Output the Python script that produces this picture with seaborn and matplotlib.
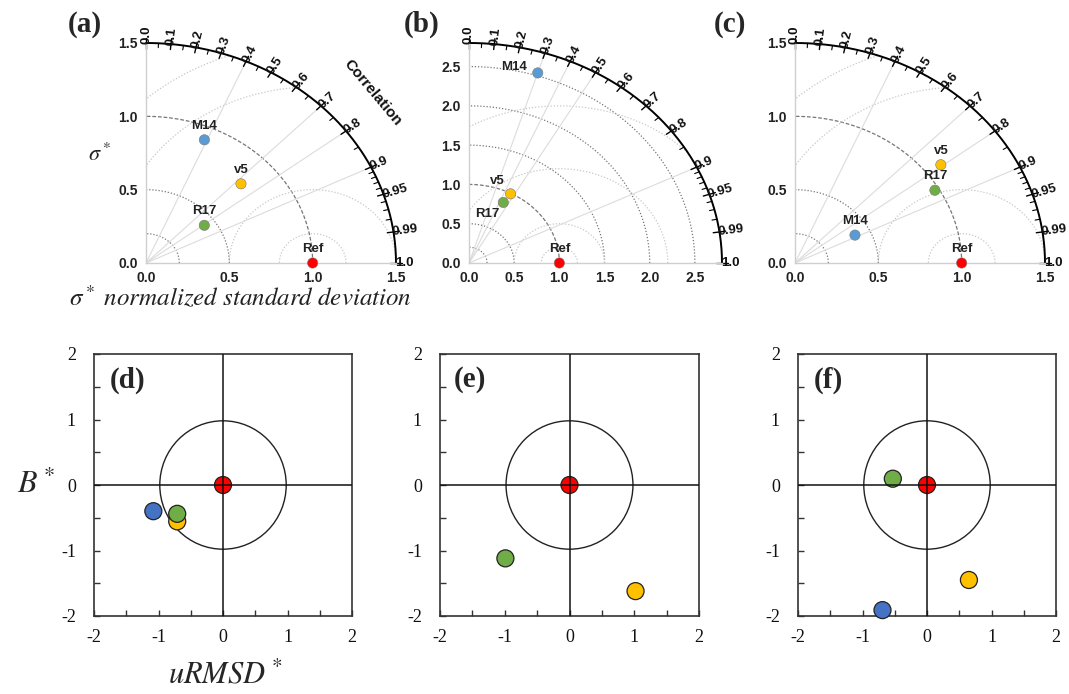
import numpy as np
import pandas as pd
import matplotlib
matplotlib.use('Agg')
import matplotlib.pyplot as plt
import seaborn as sns

# ---- data ----
models = ['M14', 'v5', 'R17']
# Taylor diagrams: normalized std and correlation (M14, v5, R17)
std_a = [0.91, 0.785, 0.434]
corr_a = [0.385, 0.726, 0.806]
std_b = [2.536, 0.993, 0.859]
corr_b = [0.30, 0.463, 0.442]
std_c = [0.407, 1.102, 0.975]
corr_c = [0.884, 0.794, 0.861]

# target diagrams: uRMSD* and B* (M14 is off the chart in (e))
urmsd_d = [-1.08, -0.71, -0.71]
bias_d = [-0.40, -0.555, -0.44]
models_e = ['v5', 'R17']
urmsd_e = [1.02, -0.99]
bias_e = [-1.62, -1.12]
urmsd_f = [-0.69, 0.65, -0.53]
bias_f = [-1.91, -1.45, 0.096]

corr_major = [0.0, 0.1, 0.2, 0.3, 0.4, 0.5, 0.6, 0.7, 0.8, 0.9, 0.95, 0.99, 1.0]
corr_labels = ['0.0', '0.1', '0.2', '0.3', '0.4', '0.5', '0.6', '0.7', '0.8', '0.9', '0.95', '0.99', '1.0']
corr_minor = [0.05, 0.15, 0.25, 0.35, 0.45, 0.55, 0.65, 0.75, 0.85,
              0.91, 0.92, 0.93, 0.94, 0.96, 0.97, 0.98]

top_colors = {'M14': '#5b9bd5', 'v5': '#ffc000', 'R17': '#70ad47', 'Ref': '#ff0000'}
bot_colors = {'M14': '#4472c4', 'v5': '#ffc000', 'R17': '#70ad47', 'Ref': '#ff0000'}

sns.set_theme(style='white')
plt.rcParams['font.family'] = ['Liberation Sans', 'DejaVu Sans']
plt.rcParams['mathtext.fontset'] = 'stix'
plt.rcParams['axes.unicode_minus'] = False

fig = plt.figure(figsize=(10.69, 6.94), dpi=100)
W, H = 1069, 694


def px_axes(left, right, top, bottom):
    return fig.add_axes([left / W, 1 - bottom / H, (right - left) / W, (bottom - top) / H])


def taylor(ax, R, std, corr, ticks, std_arcs, rms_arcs, corr_lines, offsets, title=False):
    ax.set_xlim(0, R)
    ax.set_ylim(0, R)
    for s in ['top', 'right']:
        ax.spines[s].set_visible(False)
    for s in ['left', 'bottom']:
        ax.spines[s].set_color('#cfcfcf')
        ax.spines[s].set_linewidth(1)
    ax.set_xticks(ticks)
    ax.set_yticks(ticks)
    ax.set_xticklabels([f'{t:.1f}' for t in ticks])
    ax.set_yticklabels([f'{t:.1f}' for t in ticks])
    ax.tick_params(length=0, labelsize=10, pad=6)
    for lab in ax.get_xticklabels() + ax.get_yticklabels():
        lab.set_fontweight('bold')
        lab.set_color('#222222')

    t = np.linspace(0, np.pi / 2, 300)
    for r in std_arcs:
        ls = (0, (3, 1.5)) if r == 1.0 else (0, (1, 1.5))
        ax.plot(r * np.cos(t), r * np.sin(t), ls=ls, color='#777777', lw=0.9, zorder=1)
    t2 = np.linspace(0, np.pi, 600)
    for r in rms_arcs:
        x = 1 + r * np.cos(t2)
        y = r * np.sin(t2)
        bad = (x < 0) | (x ** 2 + y ** 2 > R ** 2)
        x[bad] = np.nan
        ax.plot(x, y, ls=(0, (1, 1.5)), color='#c8c8c8', lw=0.9, zorder=1)
    for c in corr_lines:
        th = np.arccos(c)
        ax.plot([0, R * np.cos(th)], [0, R * np.sin(th)], color='#dcdcdc', lw=0.8, zorder=1)

    ax.plot(R * np.cos(t), R * np.sin(t), color='black', lw=1.4, clip_on=False, zorder=2)
    for c, lab in zip(corr_major, corr_labels):
        th = np.arccos(c)
        ax.plot([0.975 * R * np.cos(th), 1.025 * R * np.cos(th)],
                [0.975 * R * np.sin(th), 1.025 * R * np.sin(th)],
                color='black', lw=1, clip_on=False)
        ax.text(0.995 * R * np.cos(th), 0.995 * R * np.sin(th), lab,
                rotation=np.degrees(th), transform_rotates_text=True,
                rotation_mode='anchor', ha='left', va='center',
                fontsize=9.5, fontweight='bold', color='#111111')
    for c in corr_minor:
        th = np.arccos(c)
        ax.plot([0.98 * R * np.cos(th), R * np.cos(th)],
                [0.98 * R * np.sin(th), R * np.sin(th)],
                color='black', lw=0.8, clip_on=False)
    if title:
        ax.text(1.36, 1.16, 'Correlation', rotation=-50, ha='center', va='center',
                fontsize=11, fontweight='bold', color='#111111')

    names = list(models) + ['Ref']
    th = np.arccos(corr)
    df = pd.DataFrame({'name': names,
                       'x': list(np.array(std) * np.cos(th)) + [1.0],
                       'y': list(np.array(std) * np.sin(th)) + [0.0]})
    sns.scatterplot(data=df, x='x', y='y', hue='name', palette=top_colors, legend=False,
                    s=55, edgecolor='#777777', linewidth=0.4, ax=ax, zorder=5, clip_on=False)
    for _, row in df.iterrows():
        ax.annotate(row['name'], (row['x'], row['y']), xytext=offsets[row['name']],
                    textcoords='offset points', ha='center', va='center',
                    fontsize=9.5, fontweight='bold', color='#222222')
    ax.set_xlabel('')
    ax.set_ylabel('')


def target(ax, names, ux, by):
    ax.set_xlim(-2, 2)
    ax.set_ylim(-2, 2)
    for s in ax.spines.values():
        s.set_color('#333333')
        s.set_linewidth(1.2)
    ax.set_xticks([-2, -1, 0, 1, 2])
    ax.set_yticks([-2, -1, 0, 1, 2])
    ax.set_xticks([-1.5, -0.5, 0.5, 1.5], minor=True)
    ax.set_yticks([-1.5, -0.5, 0.5, 1.5], minor=True)
    ax.tick_params(which='both', direction='in', length=4, width=1, color='#333333',
                   bottom=True, left=True, top=False, right=False)
    ax.tick_params(axis='x', which='major', pad=9, labelsize=13)
    ax.tick_params(axis='y', which='major', pad=13, labelsize=13)
    for lab in ax.get_xticklabels() + ax.get_yticklabels():
        lab.set_fontfamily('Liberation Serif')
        lab.set_color('#111111')
    ax.axhline(0, color='#111111', lw=1.1, zorder=4)
    ax.axvline(0, color='#111111', lw=1.1, zorder=4)
    ax.add_patch(plt.Circle((0, 0), 0.98, fill=False, ec='#222222', lw=1.0, zorder=2))
    df = pd.DataFrame({'name': list(names) + ['Ref'],
                       'u': list(ux) + [0.0],
                       'b': list(by) + [0.0]})
    sns.scatterplot(data=df, x='u', y='b', hue='name', palette=bot_colors, legend=False,
                    s=150, edgecolor='#222222', linewidth=0.9, ax=ax, zorder=3, clip_on=False)
    ax.set_xlabel('')
    ax.set_ylabel('')


off_top = {'M14': (0, 10), 'v5': (0, 10), 'R17': (0, 10), 'Ref': (0, 10)}
off_b = {'M14': (-17, 4.5), 'v5': (-9.5, 9), 'R17': (-11.5, -8.5), 'Ref': (0, 10)}

ax_a = px_axes(146, 396, 43, 263)
taylor(ax_a, 1.5, std_a, corr_a, [0, 0.5, 1.0, 1.5], [0.2, 0.5, 1.0],
       [0.2, 0.5, 1.2, 1.5], [0.4, 0.7, 0.8, 0.9], off_top, title=True)
ax_b = px_axes(469, 722, 43, 263)
taylor(ax_b, 2.8, std_b, corr_b, [0, 0.5, 1.0, 1.5, 2.0, 2.5],
       [0.2, 0.5, 1.0, 1.5, 2.0, 2.5], [0.2, 0.5, 1.2, 2.0],
       [0.3, 0.4, 0.5, 0.9], off_b)
ax_c = px_axes(795, 1045, 43, 263)
taylor(ax_c, 1.5, std_c, corr_c, [0, 0.5, 1.0, 1.5], [0.2, 0.5, 1.0],
       [0.2, 0.5, 1.2, 1.5], [0.4, 0.7, 0.8, 0.9], off_top)

ax_d = px_axes(94, 352, 354, 616)
target(ax_d, models, urmsd_d, bias_d)
ax_e = px_axes(440, 699, 354, 616)
target(ax_e, models_e, urmsd_e, bias_e)
ax_f = px_axes(798, 1056, 354, 616)
target(ax_f, models, urmsd_f, bias_f)

# panel letters
for lab, x, y in [('(a)', 68, 24), ('(b)', 404, 24), ('(c)', 714, 24),
                  ('(d)', 110, 380), ('(e)', 454, 380), ('(f)', 814, 380)]:
    fig.text(x / W, 1 - y / H, lab, fontsize=21, fontweight='bold',
             family=['Liberation Serif', 'DejaVu Serif'], ha='left', va='center')

fig.text(240 / W, 1 - 298 / H, r'$\sigma^*\ normalized\ standard\ deviation$',
         fontsize=18, ha='center', va='center', color='#222222')
fig.text(100 / W, 1 - 155 / H, r'$\sigma^*$', fontsize=16, ha='center', va='center',
         color='#222222')
fig.text(36 / W, 1 - 485 / H, r'$B^*$', fontsize=23, ha='center', va='center')
fig.text(225 / W, 1 - 675 / H, r'$uRMSD^*$', fontsize=22, ha='center', va='center')

fig.savefig('out.png', dpi=100)
